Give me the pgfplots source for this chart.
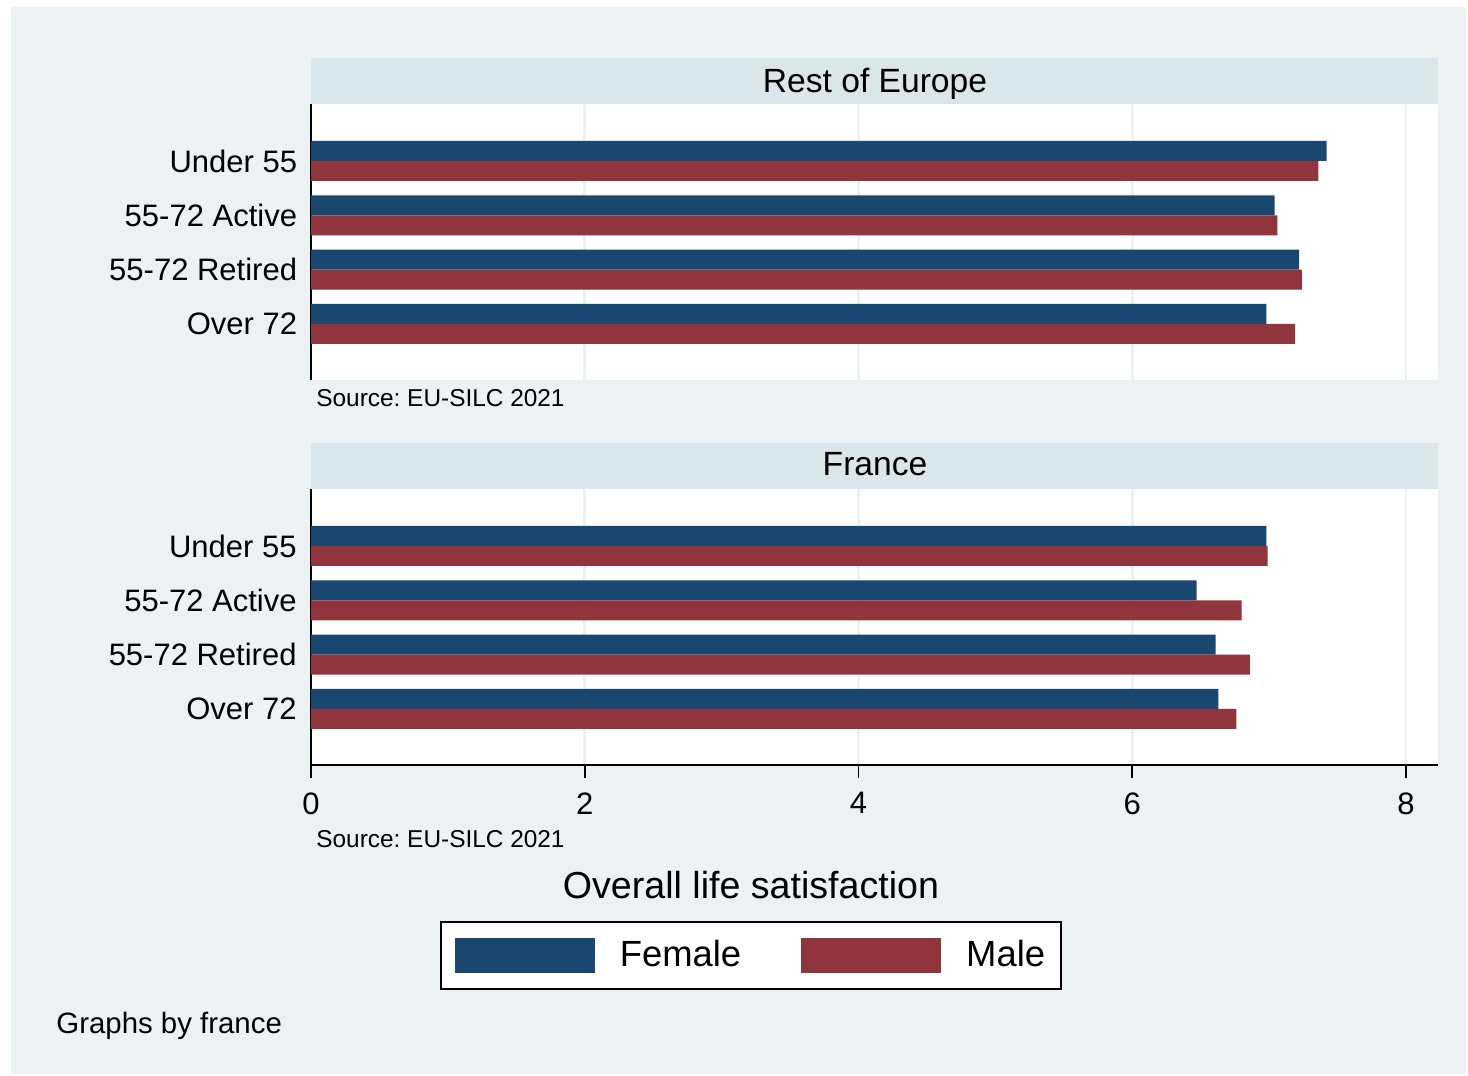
\documentclass[border=0pt]{standalone}
\usepackage{pgfplots}
\pgfplotsset{compat=1.18}
\usepackage{fontspec}
\setmainfont{Liberation Sans}
\frenchspacing
\definecolor{fem}{HTML}{1A476F}
\definecolor{mal}{HTML}{90353B}
\definecolor{bgc}{HTML}{EAF2F3}
\definecolor{strip}{HTML}{D9E6EB}
\newcommand{\fs}[1]{\fontsize{#1}{#1}\selectfont}
\pgfplotsset{
  panel/.style={
    anchor=north west, scale only axis, width=563.5pt, height=138pt,
    xmin=0, xmax=8.234, ymin=-0.031, ymax=5.049,
    xbar, bar width=10pt,
    axis background/.style={fill=white},
    axis lines*=left,
    y axis line style={line width=0.9pt},
    xtick={0,2,4,6,8},
    xmajorgrids, grid style={bgc, line width=1.4pt},
    ytick={1,2,3,4},
    yticklabels={Over 72,55-72 Retired,55-72 Active,Under 55},
    ytick style={draw=none},
    /pgf/number format/assume math mode=true,
  }
}
\begin{document}
\begin{tikzpicture}
\fill[white] (0pt,0pt) rectangle (734pt,-538pt);
\fill[bgc] (5.5pt,-3.5pt) rectangle (733pt,-537pt);
\fill[strip] (155.5pt,-29pt) rectangle (719pt,-52pt);
\node[anchor=base, inner sep=0pt, font=\fs{16.8}] at (437.5pt,-46pt) {Rest of Europe};
\fill[strip] (155.5pt,-221.5pt) rectangle (719pt,-244.5pt);
\node[anchor=base, inner sep=0pt, font=\fs{16.8}] at (437.5pt,-237.5pt) {France};

\begin{axis}[panel, at={(155.5pt,-52pt)},
  yticklabel style={font=\fs{15.5}, inner sep=0pt, xshift=-2.5pt},
  x axis line style={draw=none}, xticklabels={}, xtick style={draw=none}]
\addplot[fill=fem, draw=none, bar shift=5pt] coordinates {(7.42,4) (7.04,3) (7.22,2) (6.98,1)};
\addplot[fill=mal, draw=none, bar shift=-5pt] coordinates {(7.36,4) (7.06,3) (7.24,2) (7.19,1)};
\end{axis}

\begin{axis}[panel, at={(155.5pt,-244.5pt)},
  yticklabel style={font=\fs{15.5}, inner sep=0pt, xshift=-0.5pt},
  x axis line style={line width=0.9pt},
  xtick style={draw=black, line width=0.9pt},
  tick align=outside, major tick length=6.5pt, xtick pos=bottom,
  xticklabel style={font=\fs{15.5}, inner sep=0pt, yshift=-7pt},
  legend style={at={(0.1145,-0.565)}, anchor=north west, draw=black, line width=0.8pt,
    fill=white, font=\fs{18.2}, legend columns=2, inner xsep=7pt, inner ysep=8pt,
    /tikz/every odd column/.append style={column sep=12.5pt},
    /tikz/every even column/.append style={column sep=30pt},
    nodes={inner sep=0pt}}]
\addplot[fill=fem, draw=none, bar shift=5pt,
  legend image code/.code={\fill[fem] (0pt,-8.75pt) rectangle (70pt,8.75pt);}]
  coordinates {(6.98,4) (6.47,3) (6.61,2) (6.63,1)};
\addlegendentry{Female}
\addplot[fill=mal, draw=none, bar shift=-5pt,
  legend image code/.code={\fill[mal] (0pt,-8.75pt) rectangle (70pt,8.75pt);}]
  coordinates {(6.99,4) (6.80,3) (6.86,2) (6.76,1)};
\addlegendentry{Male\rule{1pt}{0pt}}
\end{axis}

\node[anchor=base west, inner sep=0pt, font=\fs{12.2}] at (158pt,-203.25pt) {Source: EU-SILC 2021};
\node[anchor=base west, inner sep=0pt, font=\fs{12.2}] at (158pt,-423.75pt) {Source: EU-SILC 2021};
\node[anchor=base, inner sep=0pt, font=\fs{18.8}] at (375.5pt,-449.25pt) {Overall life satisfaction};
\node[anchor=base west, inner sep=0pt, font=\fs{14.7}] at (28pt,-516.75pt) {Graphs by france};
\end{tikzpicture}
\end{document}
